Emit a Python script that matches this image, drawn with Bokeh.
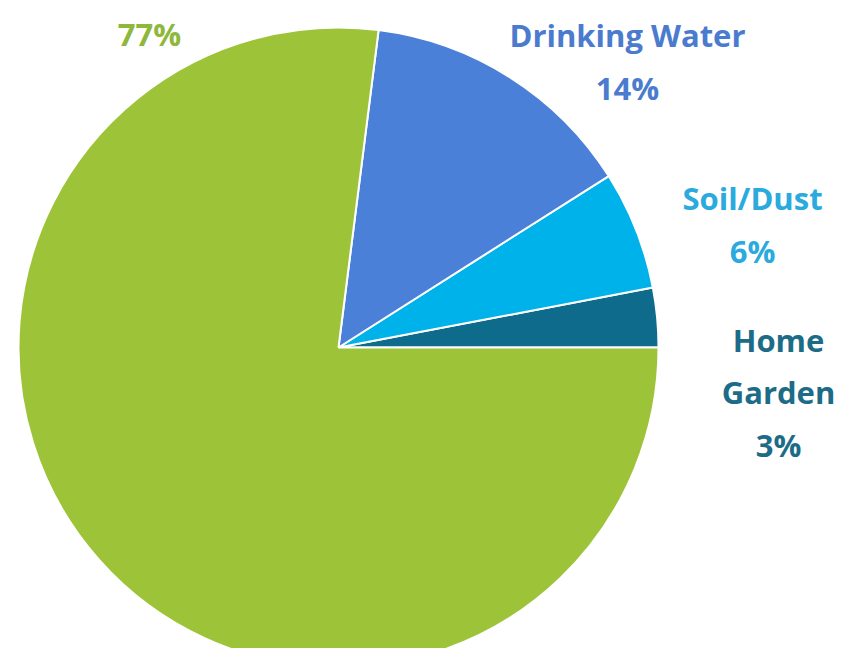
import numpy as np
from bokeh.plotting import figure
from bokeh.models import Range1d, ColumnDataSource
from bokeh.core.properties import value
from bokeh.embed import file_html
from bokeh.resources import INLINE

# data (counter-clockwise from 3 o'clock)
sources = ["Home\nGarden", "Soil/Dust", "Drinking Water", ""]  # top-left name is cut off in the reference
percents = [3, 6, 14, 77]
slice_colors = ["#0F6B8B", "#00B2EA", "#4A80D8", "#9DC438"]
label_colors = ["#1C6C88", "#2AAADD", "#4A7BCF", "#8DB83B"]

W, H = 842, 648
p = figure(width=W, height=H, output_backend="svg", toolbar_location=None,
           x_range=Range1d(0, W), y_range=Range1d(-H, 0),
           min_border=0, outline_line_color=None)
p.axis.visible = False
p.grid.visible = False
p.background_fill_color = "white"
p.border_fill_color = "white"

frac = np.array(percents, dtype=float) / sum(percents)
ends = np.cumsum(frac) * 2 * np.pi
starts = ends - frac * 2 * np.pi

cx, cy, r = 338, -347, 320
wsrc = ColumnDataSource(dict(start=starts, end=ends, color=slice_colors))
p.wedge(x=cx, y=cy, radius=r, start_angle="start", end_angle="end",
        fill_color="color", line_color="white", line_width=2, source=wsrc)

# label positions (image px, block centres)
lx = [778, 752, 627, 149]
ly = [-392, -224, -61, -33]
texts = [(f"{s}\n{v}%" if s else f"{v}%") for s, v in zip(sources, percents)]
tsrc = ColumnDataSource(dict(x=lx, y=ly, t=texts, c=label_colors))
p.text(x="x", y="y", text="t", text_color="c", source=tsrc,
       text_font=value("Open Sans"), text_font_style="bold",
       text_font_size="31px", text_align="center", text_baseline="middle",
       text_line_height=1.24)

open("out.html", "w").write(file_html(p, INLINE))
